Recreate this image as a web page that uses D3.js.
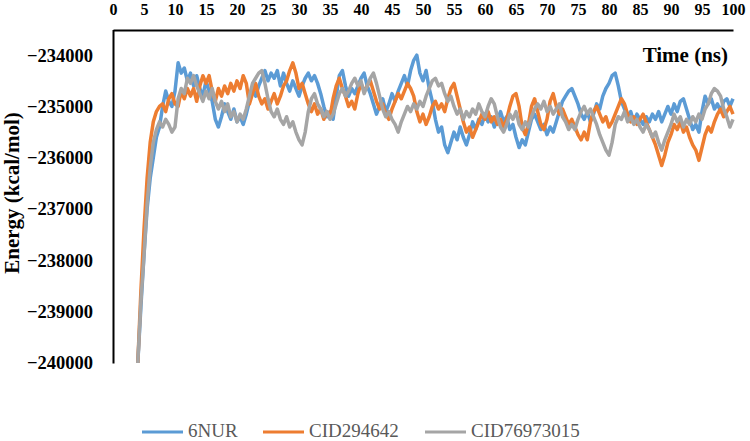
<!DOCTYPE html>
<html>
<head>
<meta charset="utf-8">
<script src="https://cdn.jsdelivr.net/npm/d3@7"></script>
<style>
  html, body { margin: 0; padding: 0; background: #fff; }
  svg { display: block; }
</style>
</head>
<body>
<svg id="chart" width="750" height="441"></svg>
<script>
// ---- data ----
const seriesNames = ["6NUR", "CID294642", "CID76973015"];
const seriesColors = ["#5B9BD5", "#ED7D31", "#A5A5A5"];
const xTicks = [0,5,10,15,20,25,30,35,40,45,50,55,60,65,70,75,80,85,90,95,100];
const yTicks = [-234000,-235000,-236000,-237000,-238000,-239000,-240000];

// time (ns): 4 to 100 by 0.5
const time = [];
for (let i = 0; i <= 192; i++) time.push(4 + i * 0.5);

const nur6 = [
-240000,-238900,-237900,-237000,-236400,-236000,-235600,-235400,-235000,-234700,
-234900,-235000,-234700,-234150,-234350,-234250,-234500,-234350,-234600,-234400,
-234650,-234800,-234500,-234700,-234900,-235250,-235400,-235200,-234950,-235100,
-235250,-235050,-235300,-235200,-235350,-235150,-234900,-234650,-234800,-234600,
-234450,-234300,-234500,-234350,-234450,-234300,-234600,-234350,-234550,-234700,
-234500,-234650,-234800,-234600,-234450,-234350,-234500,-234400,-234550,-234750,
-235000,-235200,-235100,-235250,-234800,-234400,-234300,-234600,-234800,-234650,
-234750,-234600,-234450,-234350,-234600,-234750,-234950,-235150,-235000,-234850,
-235100,-234950,-234750,-234900,-234700,-234550,-234400,-234600,-234300,-234100,
-234000,-234350,-234500,-234300,-234650,-234900,-235250,-235500,-235400,-235750,
-235900,-235700,-235500,-235650,-235400,-235600,-235750,-235550,-235300,-235450,
-235250,-235350,-235150,-235300,-235200,-235400,-235250,-235100,-235300,-235200,
-235450,-235350,-235600,-235800,-235650,-235750,-235500,-235250,-235150,-235300,
-235450,-235350,-235550,-235400,-235500,-235300,-235100,-234900,-234800,-234700,
-234650,-234800,-234950,-235150,-235250,-235100,-235300,-235150,-234950,-235050,
-234800,-234650,-234550,-234400,-234350,-234600,-234900,-235050,-235200,-235100,
-235300,-235150,-235250,-235350,-235200,-235300,-235150,-235250,-235100,-235300,
-235150,-235000,-235150,-234950,-235100,-234900,-234850,-235050,-235250,-235450,
-235350,-235500,-235100,-234800,-234950,-234850,-235050,-234950,-235100,-234900,
-234850,-235000,-234850
];

const cid294642 = [
-240000,-238600,-237400,-236400,-235700,-235300,-235100,-235000,-234950,-235100,
-234850,-234750,-234950,-235000,-234700,-234850,-234650,-234800,-234650,-234900,
-234600,-234400,-234550,-234400,-234700,-234900,-234650,-234800,-234600,-234750,
-234550,-234700,-234500,-234650,-234400,-234550,-234950,-234750,-234550,-234800,
-234950,-234850,-235050,-234900,-234750,-234950,-234800,-234600,-234500,-234300,
-234150,-234350,-234650,-234550,-234750,-234950,-235100,-234950,-235150,-235050,
-235250,-235100,-235200,-234850,-234600,-234450,-234650,-234800,-235000,-234900,
-235050,-234750,-234550,-234700,-234600,-234500,-234700,-234900,-235050,-234950,
-235150,-235250,-235050,-234900,-234750,-234850,-234700,-234550,-234650,-234800,
-235100,-235300,-235150,-235350,-235200,-235000,-234900,-235050,-234950,-235100,
-234850,-234650,-234550,-234800,-235050,-235300,-235500,-235400,-235600,-235450,
-235300,-235150,-235250,-235100,-235300,-235200,-235350,-235250,-235400,-235250,
-235000,-234800,-234750,-235000,-235400,-235550,-235350,-235000,-234850,-235100,
-235350,-235450,-235250,-234900,-234750,-235000,-235150,-235050,-235200,-235350,
-235250,-235400,-235550,-235650,-235500,-235650,-235300,-235100,-235000,-235150,
-235300,-235200,-235400,-235300,-235150,-235000,-234850,-234950,-235150,-235300,
-235200,-235350,-235250,-235150,-235300,-235450,-235600,-235750,-235950,-236150,
-235950,-235700,-235550,-235350,-235450,-235300,-235500,-235400,-235600,-235750,
-235850,-236050,-235800,-235550,-235400,-235500,-235300,-235150,-235050,-235200,
-235100,-235000,-235150
];

const cid76973015 = [
-240000,-238800,-237900,-236900,-236200,-235700,-235450,-235300,-235400,-235250,
-235350,-235500,-235400,-234850,-234650,-234750,-234450,-234550,-234400,-234600,
-234750,-234900,-234700,-234850,-234650,-234900,-235050,-234900,-235100,-234950,
-235200,-235100,-235300,-235150,-235250,-235050,-234800,-234550,-234450,-234350,
-234300,-234550,-234850,-235100,-235200,-235050,-235250,-235350,-235200,-235400,
-235300,-235500,-235650,-235750,-235500,-235100,-234850,-234750,-234950,-235050,
-235200,-235100,-235250,-235150,-234950,-234750,-234650,-234800,-234700,-234550,
-234450,-234600,-234500,-234750,-234600,-234450,-234350,-234550,-234800,-235050,
-235200,-235100,-235250,-235350,-235500,-235300,-235150,-235000,-235100,-234950,
-235050,-234900,-235000,-234800,-234650,-234500,-234450,-234600,-234550,-234750,
-234900,-234800,-235000,-235150,-235050,-235250,-235100,-235200,-235050,-235150,
-234950,-235100,-235200,-235000,-234850,-234950,-235200,-235400,-235500,-235350,
-235150,-235250,-235100,-235350,-235450,-235300,-235400,-235200,-235050,-234950,
-235050,-234900,-235100,-235000,-235150,-235050,-234950,-235200,-235300,-235450,
-235350,-235450,-235250,-235100,-235000,-235150,-235050,-235200,-235350,-235550,
-235700,-235850,-235950,-235700,-235350,-235200,-235250,-235100,-235300,-235200,
-235350,-235250,-235400,-235500,-235350,-235450,-235600,-235500,-235700,-235850,
-235650,-235500,-235350,-235150,-235300,-235200,-235400,-235250,-235350,-235200,
-235300,-235150,-235250,-235050,-234950,-234750,-234650,-234700,-234800,-235050,
-235200,-235400,-235250
];

const seriesValues = [nur6, cid294642, cid76973015];

// ---- chart ----
const svg = d3.select("#chart");
const x = d3.scaleLinear().domain([0, 100]).range([113, 733]);
const y = d3.scaleLinear().domain([-240000, -233500]).range([363, 29.5]);

const serif = "'Liberation Serif', 'Times New Roman', serif";

svg.append("defs").append("clipPath").attr("id", "plotclip")
  .append("rect").attr("x", 113).attr("y", 29.5).attr("width", 622).attr("height", 335);

const line = d3.line().x((d, i) => x(time[i])).y(d => y(d));
const plot = svg.append("g").attr("clip-path", "url(#plotclip)");
seriesValues.forEach((vals, k) => {
  plot.append("path")
    .datum(vals)
    .attr("fill", "none")
    .attr("stroke", seriesColors[k])
    .attr("stroke-width", 3.5)
    .attr("stroke-linejoin", "round")
    .attr("d", line);
});

// top x axis
const xAxis = d3.axisTop(x).tickValues(xTicks).tickSize(0).tickSizeOuter(0).tickPadding(15).tickFormat(d3.format("d"));
const gx = svg.append("g").attr("transform", "translate(0,30)").call(xAxis);
gx.select(".domain").attr("stroke", "#000").attr("stroke-width", 2);
gx.selectAll("text").attr("font-family", serif).attr("font-size", 16).attr("font-weight", "bold").attr("fill", "#000");

// left y axis
const yAxis = d3.axisLeft(y).tickValues(yTicks).tickSize(0).tickSizeOuter(0).tickPadding(20).tickFormat(d => d3.format("d")(d));
const gy = svg.append("g").attr("transform", "translate(113,0)").call(yAxis);
gy.select(".domain").attr("stroke", "#000").attr("stroke-width", 2);
gy.selectAll("text").attr("font-family", serif).attr("font-size", 18.5).attr("font-weight", "bold").attr("fill", "#000");

// axis titles
svg.append("text").attr("x", 728).attr("y", 62).attr("text-anchor", "end")
  .attr("font-family", serif).attr("font-size", 21).attr("font-weight", "bold").attr("fill", "#000")
  .text("Time (ns)");
svg.append("text").attr("transform", "translate(19,193) rotate(-90)").attr("text-anchor", "middle")
  .attr("font-family", serif).attr("font-size", 21).attr("font-weight", "bold").attr("fill", "#000")
  .text("Energy (kcal/mol)");

// legend
const legendX = [142, 263, 425];
seriesNames.forEach((name, k) => {
  const g = svg.append("g");
  g.append("line").attr("x1", legendX[k]).attr("x2", legendX[k] + 41)
    .attr("y1", 432).attr("y2", 432)
    .attr("stroke", seriesColors[k]).attr("stroke-width", 3);
  g.append("text").attr("x", legendX[k] + 46).attr("y", 437)
    .attr("font-family", serif).attr("font-size", 19).attr("fill", "#595959")
    .text(name);
});
</script>
</body>
</html>
